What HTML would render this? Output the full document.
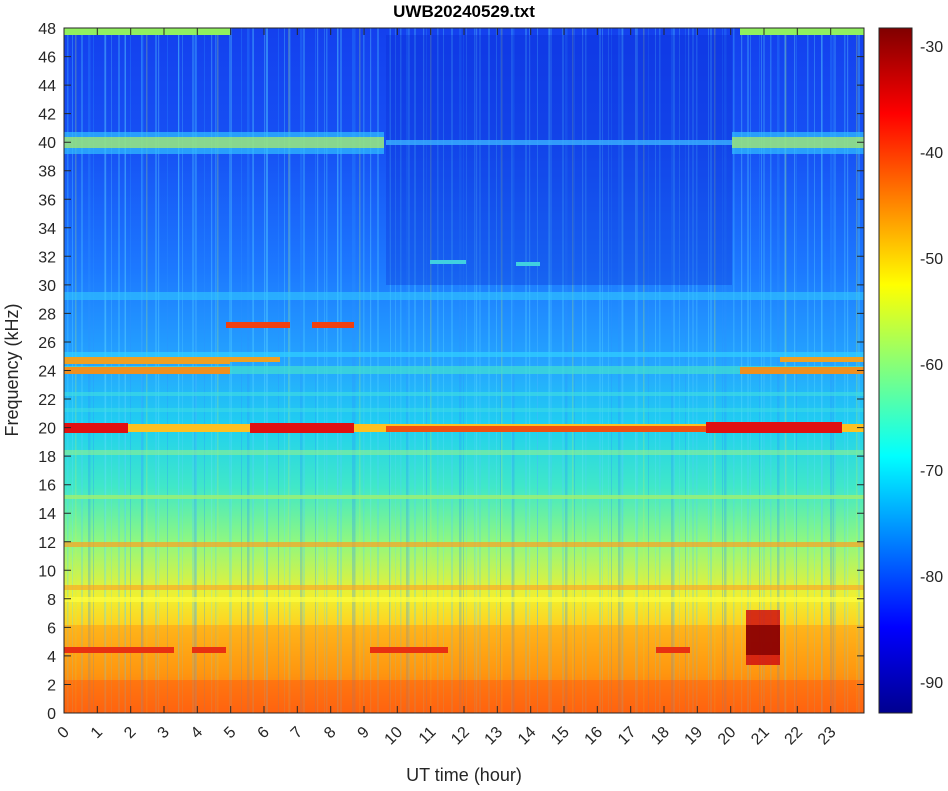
<!DOCTYPE html>
<html><head><meta charset="utf-8"><style>
html,body{margin:0;padding:0;background:#fff;}
svg text{font-family:"Liberation Sans",sans-serif;fill:#262626;}
</style></head><body>
<svg width="948" height="786" viewBox="0 0 948 786" xmlns="http://www.w3.org/2000/svg">
<defs>
<linearGradient id="bg" x1="0" y1="0" x2="0" y2="1">
<stop offset="0" stop-color="#1440ee"/>
<stop offset="0.17" stop-color="#1650f4"/>
<stop offset="0.35" stop-color="#1c78ff"/>
<stop offset="0.5" stop-color="#25a8ff"/>
<stop offset="0.58" stop-color="#20d0f0"/>
<stop offset="0.67" stop-color="#40e8c8"/>
<stop offset="0.75" stop-color="#8ff880"/>
<stop offset="0.83" stop-color="#f0f030"/>
<stop offset="0.875" stop-color="#ffd020"/>
<stop offset="0.94" stop-color="#ffa010"/>
<stop offset="1" stop-color="#ff6010"/>
</linearGradient>
<linearGradient id="jet" x1="0" y1="1" x2="0" y2="0">
<stop offset="0" stop-color="#00008f"/>
<stop offset="0.125" stop-color="#0000ff"/>
<stop offset="0.375" stop-color="#00ffff"/>
<stop offset="0.625" stop-color="#ffff00"/>
<stop offset="0.875" stop-color="#ff0000"/>
<stop offset="1" stop-color="#800000"/>
</linearGradient>
<pattern id="p1" x="64" y="0" width="37" height="786" patternUnits="userSpaceOnUse">
<rect x="3" y="0" width="1.5" height="786" fill="#50d0ff"/>
<rect x="17" y="0" width="2" height="786" fill="#50d0ff"/>
<rect x="29" y="0" width="1" height="786" fill="#2a90ff"/>
</pattern>
<pattern id="p2" x="64" y="0" width="53" height="786" patternUnits="userSpaceOnUse">
<rect x="8" y="0" width="1" height="786" fill="#60e0ff"/>
<rect x="24" y="0" width="2.5" height="786" fill="#2a90ff"/>
<rect x="41" y="0" width="1.2" height="786" fill="#70e8ff"/>
</pattern>
<pattern id="p3" x="64" y="0" width="71" height="786" patternUnits="userSpaceOnUse">
<rect x="11" y="0" width="1.5" height="786" fill="#c0f060"/>
<rect x="47" y="0" width="1" height="786" fill="#60d8ff"/>
<rect x="60" y="0" width="2" height="786" fill="#50c8ff"/>
</pattern>
<clipPath id="cp"><rect x="64" y="28" width="800" height="685"/></clipPath>
</defs>
<g clip-path="url(#cp)">
<rect x="64" y="28" width="800" height="685" fill="url(#bg)"/>
<rect x="64" y="28" width="800" height="685" fill="url(#p1)" opacity="0.3"/>
<rect x="64" y="28" width="800" height="685" fill="url(#p2)" opacity="0.3"/>
<rect x="64" y="28" width="800" height="685" fill="url(#p3)" opacity="0.25"/>
<rect x="386" y="35" width="346" height="250" fill="#0a28d0" opacity="0.3"/>
<rect x="64" y="132" width="320" height="22" fill="#30c0ff" opacity="0.7"/>
<rect x="64" y="137" width="320" height="11" fill="#b0f060" opacity="0.7"/>
<rect x="386" y="140" width="346" height="5" fill="#3ab0ff" opacity="0.8"/>
<rect x="732" y="132" width="132" height="22" fill="#30c0ff" opacity="0.7"/>
<rect x="732" y="137" width="132" height="11" fill="#b0f060" opacity="0.7"/>
<rect x="64" y="28" width="166" height="7" fill="#90f060"/>
<rect x="740" y="28" width="124" height="7" fill="#90f060"/>
<rect x="64" y="292" width="800" height="8" fill="#30c8ff" opacity="0.6"/>
<rect x="64" y="352" width="800" height="5" fill="#30d0ff" opacity="0.7"/>
<rect x="64" y="357" width="166" height="7" fill="#f0a020"/>
<rect x="194" y="357" width="86" height="5" fill="#f0a020"/>
<rect x="780" y="357" width="84" height="5" fill="#f0a020"/>
<rect x="64" y="366" width="800" height="8" fill="#40e0d0" opacity="0.7"/>
<rect x="64" y="367" width="166" height="7" fill="#f09020"/>
<rect x="740" y="367" width="124" height="7" fill="#f09020"/>
<rect x="64" y="392" width="800" height="4" fill="#40e0e0" opacity="0.6"/>
<rect x="64" y="408" width="800" height="4" fill="#40e0e0" opacity="0.5"/>
<rect x="64" y="424" width="800" height="8" fill="#ffc020"/>
<rect x="64" y="423" width="64" height="10" fill="#e01010"/>
<rect x="250" y="423" width="104" height="10" fill="#e01010"/>
<rect x="706" y="422" width="136" height="11" fill="#e01010"/>
<rect x="386" y="426" width="320" height="6" fill="#f05010"/>
<rect x="64" y="450" width="800" height="5" fill="#90f090" opacity="0.6"/>
<rect x="64" y="495" width="800" height="4" fill="#a0f070" opacity="0.8"/>
<rect x="64" y="542" width="800" height="5" fill="#ffa020" opacity="0.7"/>
<rect x="64" y="585" width="800" height="5" fill="#ffa020" opacity="0.6"/>
<rect x="64" y="597" width="800" height="5" fill="#ffff40" opacity="0.7"/>
<rect x="64" y="625" width="800" height="88" fill="#ff8a10" opacity="0.4"/>
<rect x="64" y="647" width="110" height="6" fill="#e83010"/>
<rect x="192" y="647" width="34" height="6" fill="#e83010"/>
<rect x="370" y="647" width="78" height="6" fill="#e83010"/>
<rect x="656" y="647" width="34" height="6" fill="#e83010"/>
<rect x="64" y="680" width="800" height="33" fill="#ff5010" opacity="0.4"/>
<rect x="226" y="322" width="64" height="6" fill="#f04010"/>
<rect x="312" y="322" width="42" height="6" fill="#f04010"/>
<rect x="430" y="260" width="36" height="4" fill="#40d0e0"/>
<rect x="516" y="262" width="24" height="4" fill="#40d0e0"/>
<rect x="746" y="610" width="34" height="55" fill="#d01010" opacity="0.85"/>
<rect x="746" y="625" width="34" height="30" fill="#800000" opacity="0.8"/>
</g>
<rect x="64" y="28" width="800" height="685" fill="none" stroke="#262626" stroke-width="1"/>
<path stroke="#262626" stroke-width="1" fill="none" d="
M64 713h7M64 684.5h7M64 655.9h7M64 627.4h7M64 598.8h7M64 570.3h7M64 541.8h7M64 513.2h7M64 484.7h7M64 456.1h7M64 427.6h7M64 399h7M64 370.5h7M64 342h7M64 313.4h7M64 284.9h7M64 256.3h7M64 227.8h7M64 199.3h7M64 170.7h7M64 142.2h7M64 113.6h7M64 85.1h7M64 56.6h7
M864 684.5h-7M864 655.9h-7M864 627.4h-7M864 598.8h-7M864 570.3h-7M864 541.8h-7M864 513.2h-7M864 484.7h-7M864 456.1h-7M864 427.6h-7M864 399h-7M864 370.5h-7M864 342h-7M864 313.4h-7M864 284.9h-7M864 256.3h-7M864 227.8h-7M864 199.3h-7M864 170.7h-7M864 142.2h-7M864 113.6h-7M864 85.1h-7M864 56.6h-7
M97.3 713v-7M130.7 713v-7M164 713v-7M197.3 713v-7M230.7 713v-7M264 713v-7M297.3 713v-7M330.7 713v-7M364 713v-7M397.3 713v-7M430.7 713v-7M464 713v-7M497.3 713v-7M530.7 713v-7M564 713v-7M597.3 713v-7M630.7 713v-7M664 713v-7M697.3 713v-7M730.7 713v-7M764 713v-7M797.3 713v-7M830.7 713v-7
M97.3 28v7M130.7 28v7M164 28v7M197.3 28v7M230.7 28v7M264 28v7M297.3 28v7M330.7 28v7M364 28v7M397.3 28v7M430.7 28v7M464 28v7M497.3 28v7M530.7 28v7M564 28v7M597.3 28v7M630.7 28v7M664 28v7M697.3 28v7M730.7 28v7M764 28v7M797.3 28v7M830.7 28v7
M879 46h7M879 152h7M879 258h7M879 364h7M879 470h7M879 576h7M879 682h7
M912 46h-7M912 152h-7M912 258h-7M912 364h-7M912 470h-7M912 576h-7M912 682h-7"/>
<g font-size="16" text-anchor="end">
<text x="56" y="719">0</text><text x="56" y="690.5">2</text><text x="56" y="661.9">4</text><text x="56" y="633.4">6</text><text x="56" y="604.8">8</text><text x="56" y="576.3">10</text><text x="56" y="547.8">12</text><text x="56" y="519.2">14</text><text x="56" y="490.7">16</text><text x="56" y="462.1">18</text><text x="56" y="433.6">20</text><text x="56" y="405">22</text><text x="56" y="376.5">24</text><text x="56" y="348">26</text><text x="56" y="319.4">28</text><text x="56" y="290.9">30</text><text x="56" y="262.3">32</text><text x="56" y="233.8">34</text><text x="56" y="205.3">36</text><text x="56" y="176.7">38</text><text x="56" y="148.2">40</text><text x="56" y="119.6">42</text><text x="56" y="91.1">44</text><text x="56" y="62.6">46</text><text x="56" y="34">48</text>
<text transform="translate(70,733) rotate(-45)">0</text>
<text transform="translate(103.3,733) rotate(-45)">1</text>
<text transform="translate(136.7,733) rotate(-45)">2</text>
<text transform="translate(170,733) rotate(-45)">3</text>
<text transform="translate(203.3,733) rotate(-45)">4</text>
<text transform="translate(236.7,733) rotate(-45)">5</text>
<text transform="translate(270,733) rotate(-45)">6</text>
<text transform="translate(303.3,733) rotate(-45)">7</text>
<text transform="translate(336.7,733) rotate(-45)">8</text>
<text transform="translate(370,733) rotate(-45)">9</text>
<text transform="translate(403.3,733) rotate(-45)">10</text>
<text transform="translate(436.7,733) rotate(-45)">11</text>
<text transform="translate(470,733) rotate(-45)">12</text>
<text transform="translate(503.3,733) rotate(-45)">13</text>
<text transform="translate(536.7,733) rotate(-45)">14</text>
<text transform="translate(570,733) rotate(-45)">15</text>
<text transform="translate(603.3,733) rotate(-45)">16</text>
<text transform="translate(636.7,733) rotate(-45)">17</text>
<text transform="translate(670,733) rotate(-45)">18</text>
<text transform="translate(703.3,733) rotate(-45)">19</text>
<text transform="translate(736.7,733) rotate(-45)">20</text>
<text transform="translate(770,733) rotate(-45)">21</text>
<text transform="translate(803.3,733) rotate(-45)">22</text>
<text transform="translate(836.7,733) rotate(-45)">23</text>
</g>
<g font-size="16">
<text x="920" y="52">-30</text><text x="920" y="158">-40</text><text x="920" y="264">-50</text><text x="920" y="370">-60</text><text x="920" y="476">-70</text><text x="920" y="582">-80</text><text x="920" y="688">-90</text>
</g>
<text x="464" y="17" font-size="17" font-weight="bold" text-anchor="middle" style="fill:#000">UWB20240529.txt</text>
<text x="464" y="781" font-size="18" text-anchor="middle">UT time (hour)</text>
<text transform="translate(18,370) rotate(-90)" font-size="18" text-anchor="middle">Frequency (kHz)</text>
<rect x="879" y="28" width="33" height="685" fill="url(#jet)" stroke="#262626"/>
</svg>
</body></html>
